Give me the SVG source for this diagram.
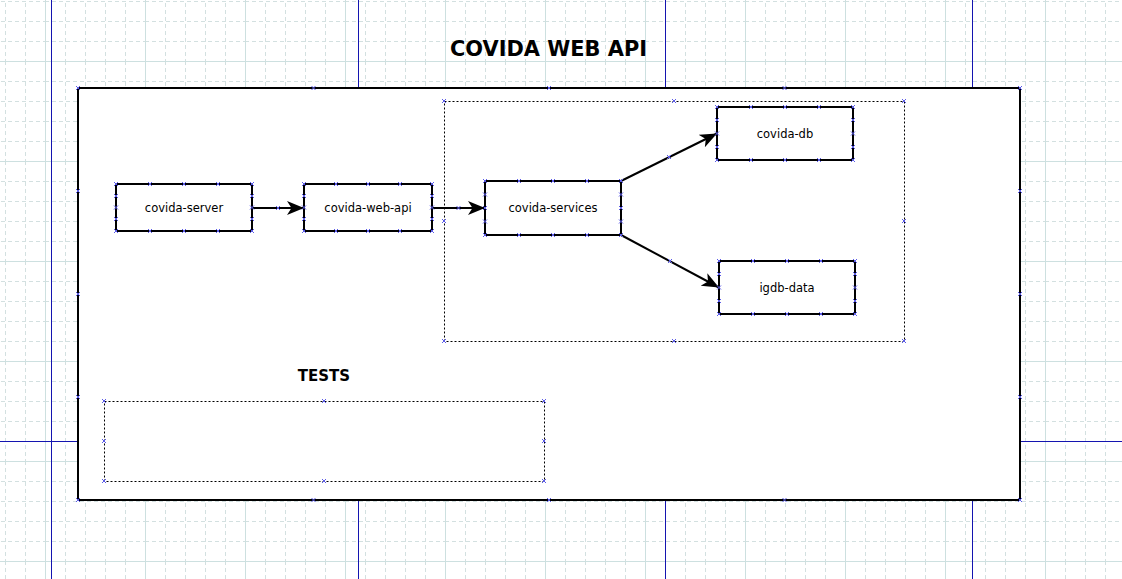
<svg xmlns="http://www.w3.org/2000/svg" xmlns:xlink="http://www.w3.org/1999/xlink" width="1122" height="579" viewBox="0 0 1122 579">
<style>
.minor{stroke:#d3e0e0;stroke-width:1;stroke-dasharray:4 3;fill:none}
.major{stroke:#cde0e0;stroke-width:1;fill:none}
.page{stroke:#1414b0;stroke-width:1;fill:none}
.box{fill:#ffffff;stroke:#000000;stroke-width:2}
.dotbox{fill:none;stroke:#000000;stroke-width:1;stroke-dasharray:2 2}
.conn{stroke:#000000;stroke-width:2;fill:none;marker-end:url(#arrow)}
.lbl{font-family:"DejaVu Sans",Verdana,sans-serif;font-size:11.5px;fill:#000000;text-anchor:middle}
.ttl{font-family:"DejaVu Sans",Verdana,sans-serif;font-weight:bold;fill:#000000;text-anchor:middle}
.xm{stroke:#5c5ce8;stroke-width:1;fill:none}
</style>
<defs>
<pattern id="grid" patternUnits="userSpaceOnUse" x="45" y="61" width="100" height="100">
<path class="minor" d="M20.5,0V100M40.5,0V100M60.5,0V100M80.5,0V100M0,20.5H100M0,40.5H100M0,60.5H100M0,80.5H100"/>
<path class="major" d="M0.5,0V100M0,0.5H100"/>
</pattern>
<marker id="arrow" markerUnits="userSpaceOnUse" markerWidth="20" markerHeight="16" refX="17" refY="7" orient="auto" viewBox="0 0 20 16">
<path d="M0,0 L17,7 L0,14 L4.5,7 Z" fill="#000000"/>
</marker>
<path id="x" class="xm" d="M-2,-2L2,2M-2,2L2,-2"/>
</defs>
<rect x="0" y="0" width="1122" height="579" fill="#ffffff"/>
<rect x="0" y="0" width="1122" height="579" fill="url(#grid)"/>
<g id="pages">
<path class="page" d="M51.5,0V579M358.5,0V579M665.5,0V579M972.5,0V579M0,441.5H1122"/>
</g>
<g id="title">
<text class="ttl" x="548.5" y="56" font-size="21" textLength="197" lengthAdjust="spacingAndGlyphs">COVIDA WEB API</text>
</g>
<g id="main-frame">
<rect class="box" x="78" y="88" width="942" height="412"/>
</g>
<g id="services-group">
<rect class="dotbox" x="444.5" y="101.5" width="460" height="240"/>
</g>
<g id="tests-label">
<text class="ttl" x="324" y="381" font-size="15">TESTS</text>
</g>
<g id="tests-group">
<rect class="dotbox" x="104.5" y="401.5" width="440" height="80"/>
</g>
<g id="covida-server">
<rect class="box" x="116" y="184" width="136" height="47"/>
<text class="lbl" x="184" y="212">covida-server</text>
</g>
<g id="covida-web-api">
<rect class="box" x="304" y="184" width="128" height="47"/>
<text class="lbl" x="368" y="212">covida-web-api</text>
</g>
<g id="covida-services">
<rect class="box" x="485" y="181" width="136" height="54"/>
<text class="lbl" x="553" y="212">covida-services</text>
</g>
<g id="covida-db">
<rect class="box" x="717" y="107" width="136" height="53"/>
<text class="lbl" x="785" y="138">covida-db</text>
</g>
<g id="igdb-data">
<rect class="box" x="719" y="261" width="136" height="53"/>
<text class="lbl" x="787" y="292">igdb-data</text>
</g>
<g id="connectors">
<line class="conn" x1="252" y1="208" x2="304" y2="208"/>
<line class="conn" x1="432" y1="208" x2="485" y2="208"/>
<line class="conn" x1="621" y1="181" x2="717" y2="133.5"/>
<line class="conn" x1="621" y1="235" x2="719" y2="287.5"/>
</g>
<g id="handles">
<use xlink:href="#x" x="78" y="88"/><use xlink:href="#x" x="313.5" y="88"/><use xlink:href="#x" x="549" y="88"/><use xlink:href="#x" x="784.5" y="88"/><use xlink:href="#x" x="1020" y="88"/>
<use xlink:href="#x" x="78" y="191"/><use xlink:href="#x" x="78" y="294"/><use xlink:href="#x" x="78" y="397"/>
<use xlink:href="#x" x="1020" y="191"/><use xlink:href="#x" x="1020" y="294"/><use xlink:href="#x" x="1020" y="397"/>
<use xlink:href="#x" x="78" y="500"/><use xlink:href="#x" x="313.5" y="500"/><use xlink:href="#x" x="549" y="500"/><use xlink:href="#x" x="784.5" y="500"/><use xlink:href="#x" x="1020" y="500"/>
<use xlink:href="#x" x="444" y="101"/><use xlink:href="#x" x="674" y="101"/><use xlink:href="#x" x="904" y="101"/><use xlink:href="#x" x="444" y="221"/><use xlink:href="#x" x="904" y="221"/><use xlink:href="#x" x="444" y="341"/><use xlink:href="#x" x="674" y="341"/><use xlink:href="#x" x="904" y="341"/>
<use xlink:href="#x" x="104" y="401"/><use xlink:href="#x" x="324" y="401"/><use xlink:href="#x" x="544" y="401"/><use xlink:href="#x" x="104" y="441"/><use xlink:href="#x" x="544" y="441"/><use xlink:href="#x" x="104" y="481"/><use xlink:href="#x" x="324" y="481"/><use xlink:href="#x" x="544" y="481"/>
<use xlink:href="#x" x="116" y="184"/><use xlink:href="#x" x="150" y="184"/><use xlink:href="#x" x="184" y="184"/><use xlink:href="#x" x="218" y="184"/><use xlink:href="#x" x="252" y="184"/>
<use xlink:href="#x" x="116" y="231"/><use xlink:href="#x" x="150" y="231"/><use xlink:href="#x" x="184" y="231"/><use xlink:href="#x" x="218" y="231"/><use xlink:href="#x" x="252" y="231"/>
<use xlink:href="#x" x="116" y="196"/><use xlink:href="#x" x="116" y="207.5"/><use xlink:href="#x" x="116" y="219"/><use xlink:href="#x" x="252" y="196"/><use xlink:href="#x" x="252" y="207.5"/><use xlink:href="#x" x="252" y="219"/>
<use xlink:href="#x" x="304" y="184"/><use xlink:href="#x" x="336" y="184"/><use xlink:href="#x" x="368" y="184"/><use xlink:href="#x" x="400" y="184"/><use xlink:href="#x" x="432" y="184"/>
<use xlink:href="#x" x="304" y="231"/><use xlink:href="#x" x="336" y="231"/><use xlink:href="#x" x="368" y="231"/><use xlink:href="#x" x="400" y="231"/><use xlink:href="#x" x="432" y="231"/>
<use xlink:href="#x" x="304" y="196"/><use xlink:href="#x" x="304" y="207.5"/><use xlink:href="#x" x="304" y="219"/><use xlink:href="#x" x="432" y="196"/><use xlink:href="#x" x="432" y="207.5"/><use xlink:href="#x" x="432" y="219"/>
<use xlink:href="#x" x="485" y="181"/><use xlink:href="#x" x="519" y="181"/><use xlink:href="#x" x="553" y="181"/><use xlink:href="#x" x="587" y="181"/><use xlink:href="#x" x="621" y="181"/>
<use xlink:href="#x" x="485" y="235"/><use xlink:href="#x" x="519" y="235"/><use xlink:href="#x" x="553" y="235"/><use xlink:href="#x" x="587" y="235"/><use xlink:href="#x" x="621" y="235"/>
<use xlink:href="#x" x="485" y="194.5"/><use xlink:href="#x" x="485" y="208"/><use xlink:href="#x" x="485" y="221.5"/><use xlink:href="#x" x="621" y="194.5"/><use xlink:href="#x" x="621" y="208"/><use xlink:href="#x" x="621" y="221.5"/>
<use xlink:href="#x" x="717" y="107"/><use xlink:href="#x" x="751" y="107"/><use xlink:href="#x" x="785" y="107"/><use xlink:href="#x" x="819" y="107"/><use xlink:href="#x" x="853" y="107"/>
<use xlink:href="#x" x="717" y="160"/><use xlink:href="#x" x="751" y="160"/><use xlink:href="#x" x="785" y="160"/><use xlink:href="#x" x="819" y="160"/><use xlink:href="#x" x="853" y="160"/>
<use xlink:href="#x" x="717" y="120"/><use xlink:href="#x" x="717" y="133.5"/><use xlink:href="#x" x="717" y="147"/><use xlink:href="#x" x="853" y="120"/><use xlink:href="#x" x="853" y="133.5"/><use xlink:href="#x" x="853" y="147"/>
<use xlink:href="#x" x="719" y="261"/><use xlink:href="#x" x="753" y="261"/><use xlink:href="#x" x="787" y="261"/><use xlink:href="#x" x="821" y="261"/><use xlink:href="#x" x="855" y="261"/>
<use xlink:href="#x" x="719" y="314"/><use xlink:href="#x" x="753" y="314"/><use xlink:href="#x" x="787" y="314"/><use xlink:href="#x" x="821" y="314"/><use xlink:href="#x" x="855" y="314"/>
<use xlink:href="#x" x="719" y="274"/><use xlink:href="#x" x="719" y="287.5"/><use xlink:href="#x" x="719" y="301"/><use xlink:href="#x" x="855" y="274"/><use xlink:href="#x" x="855" y="287.5"/><use xlink:href="#x" x="855" y="301"/>
<use xlink:href="#x" x="278" y="208"/><use xlink:href="#x" x="458.5" y="208"/><use xlink:href="#x" x="669" y="157"/><use xlink:href="#x" x="670" y="261"/>
</g>
</svg>
